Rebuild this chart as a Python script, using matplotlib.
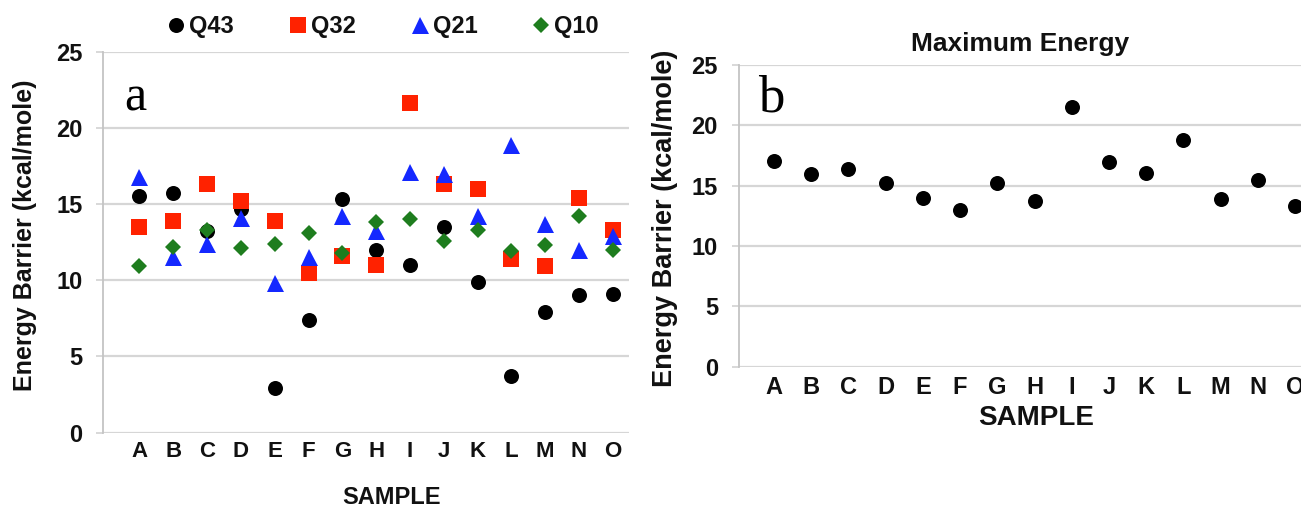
import matplotlib
matplotlib.use("Agg")
import matplotlib.pyplot as plt

# ---------------- data ----------------
samples = list("ABCDEFGHIJKLMNO")
q43 = [15.5, 15.7, 13.2, 14.7, 2.9, 7.4, 15.3, 12.0, 11.0, 13.5, 9.9, 3.7, 7.9, 9.0, 9.1]
q32 = [13.5, 13.9, 16.3, 15.2, 13.9, 10.5, 11.6, 11.0, 21.6, 16.3, 16.0, 11.4, 10.9, 15.4, 13.3]
q21 = [16.8, 11.5, 12.4, 14.1, 9.8, 11.5, 14.2, 13.2, 17.1, 17.0, 14.2, 18.9, 13.7, 12.0, 12.9]
q10 = [10.9, 12.2, 13.3, 12.1, 12.4, 13.1, 11.8, 13.8, 14.0, 12.6, 13.3, 11.9, 12.3, 14.2, 12.0]
max_energy = [17.0, 16.0, 16.35, 15.2, 14.0, 13.0, 15.2, 13.7, 21.5, 16.95, 16.05, 18.8, 13.85, 15.45, 13.3]
yticks = [0, 5, 10, 15, 20, 25]

series_names = ["Q43", "Q32", "Q21", "Q10"]
series_vals = [q43, q32, q21, q10]

# ---------------- style ----------------
W, H, DPI = 1301, 508, 100
PX = 72.0 / DPI  # px -> pt
plt.rcParams["font.family"] = ["Liberation Sans", "DejaVu Sans"]
GRID = "#d6d6d6"
TXT = "#111111"

styles = [
    dict(marker="o", color="#000000", ms=15 * PX),
    dict(marker="s", color="#ff2200", ms=15.5 * PX),
    dict(marker="^", color="#1428ff", ms=17 * PX),
    dict(marker="D", color="#1e7d1e", ms=11.5 * PX),
]

fig = plt.figure(figsize=(W / DPI, H / DPI), dpi=DPI)


def frac_x(px):
    return px / W


def frac_y(px_from_top):
    return 1 - px_from_top / H


def style_axes(ax, xlim, tick_fs_y, tick_fs_x, xpad):
    ax.set_ylim(0, 25)
    ax.set_xlim(*xlim)
    ax.set_yticks(yticks)
    ax.set_xticks(range(len(samples)))
    ax.set_xticklabels(samples)
    for s in ("top", "right", "bottom"):
        ax.spines[s].set_visible(False)
    ax.spines["left"].set_color("#c4c4c4")
    ax.spines["left"].set_linewidth(1.3)
    ax.yaxis.grid(True, color=GRID, linewidth=1.6)
    ax.set_axisbelow(True)
    ax.tick_params(axis="y", length=7 * PX, width=1.3, color=GRID,
                   pad=14 * PX, labelsize=tick_fs_y, labelcolor=TXT)
    ax.tick_params(axis="x", length=0, pad=xpad, labelsize=tick_fs_x, labelcolor=TXT)
    for lab in ax.get_xticklabels() + ax.get_yticklabels():
        lab.set_fontweight("bold")


x = list(range(len(samples)))

# ---------------- panel a ----------------
axa = fig.add_axes([frac_x(103.3), frac_y(432.5), frac_x(629 - 103.3), (432.5 - 51.7) / H])
handles = []
for name, vals, st in zip(series_names, series_vals, styles):
    h, = axa.plot(x, vals, linestyle="none", marker=st["marker"], color=st["color"],
                  markersize=st["ms"], markeredgewidth=0, label=name, clip_on=False)
    handles.append(h)
style_axes(axa, (-1.07, 14.48), 17, 16, 6)
axa.set_ylabel("Energy Barrier (kcal/mole)", fontsize=18, fontweight="bold", color=TXT)
axa.yaxis.set_label_coords((37 - 103.3) / (629 - 103.3), (432.5 - 235) / (432.5 - 51.7))
fig.text(frac_x(392), frac_y(497), "SAMPLE", ha="center", va="center",
         fontsize=17, fontweight="bold", color=TXT)
fig.text(frac_x(135), frac_y(110), "a", fontsize=36, family=["Liberation Serif", "DejaVu Serif"],
         ha="center", va="baseline", color="black")

leg = fig.legend(handles=handles, loc="center left", bbox_to_anchor=(frac_x(167), frac_y(26.7)),
                 ncol=4, frameon=False, borderpad=0, borderaxespad=0, handlelength=0.8,
                 handletextpad=0.15, columnspacing=2.3, prop=dict(weight="bold", size=17))
for t in leg.get_texts():
    t.set_color(TXT)

# ---------------- panel b ----------------
axb = fig.add_axes([frac_x(739), frac_y(366.5), frac_x(1301 - 739), (366.5 - 65) / H])
axb.plot(x, max_energy, linestyle="none", marker="o", color="black", markersize=15 * PX,
         markeredgewidth=0, clip_on=False)
style_axes(axb, (-0.94, 14.16), 17, 17, 7)
axb.set_ylabel("Energy Barrier (kcal/mole)", fontsize=19.5, fontweight="bold", color=TXT)
axb.yaxis.set_label_coords((678 - 739) / (1301 - 739), (366.5 - 218) / (366.5 - 65))
axb.set_title("Maximum Energy", fontsize=19, fontweight="bold", color=TXT, pad=10)
fig.text(frac_x(1036), frac_y(418), "SAMPLE", ha="center", va="center", fontsize=20,
         fontweight="bold", color=TXT)
fig.text(frac_x(771), frac_y(111), "b", fontsize=38, family=["Liberation Serif", "DejaVu Serif"],
         ha="center", va="baseline", color="black")

fig.savefig("out.png", dpi=DPI)
